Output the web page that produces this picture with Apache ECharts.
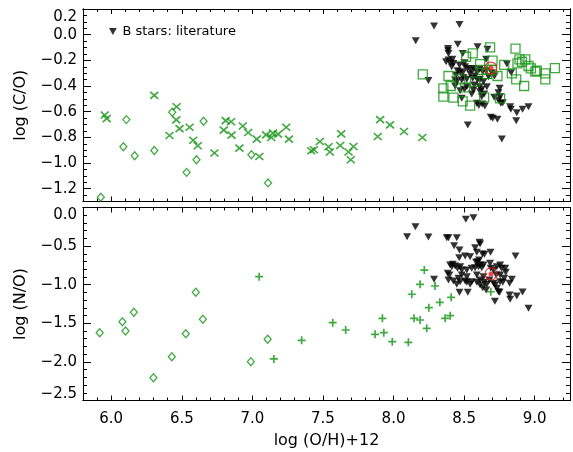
<!DOCTYPE html>
<html>
<head>
<meta charset="utf-8">
<script src="https://cdn.jsdelivr.net/npm/echarts@6/dist/echarts.min.js"></script>
<style>html,body{margin:0;padding:0;background:#fff;}#c{width:573px;height:452px;}</style>
</head>
<body>
<div id="c"></div>
<script>
// ---------- tick labels ----------
const xMajorTicks = [6.0, 6.5, 7.0, 7.5, 8.0, 8.5, 9.0];
const coMajorTicks = [-1.2, -1.0, -0.8, -0.6, -0.4, -0.2, 0.0, 0.2];
const noMajorTicks = [-2.5, -2.0, -1.5, -1.0, -0.5, 0.0];

// ---------- top panel: log(C/O) vs log(O/H)+12 ----------
const coDiamonds = [
  [5.926,-1.267],[6.086,-0.874],[6.107,-0.662],[6.166,-0.943],[6.305,-0.902],
  [6.432,-0.605],[6.534,-1.073],[6.604,-0.974],[6.654,-0.674],[6.993,-0.936],[7.111,-1.155]
];
const coCrosses = [
  [5.954,-0.626],[5.968,-0.654],[6.305,-0.473],[6.413,-0.786],[6.463,-0.561],[6.461,-0.664],
  [6.484,-0.732],[6.555,-0.721],[6.581,-0.822],[6.613,-0.866],[6.731,-0.922],[6.797,-0.744],
  [6.811,-0.670],[6.849,-0.678],[6.852,-0.783],[6.908,-0.884],[6.932,-0.711],[6.970,-0.763],
  [7.031,-0.814],[7.049,-0.949],[7.097,-0.781],[7.134,-0.801],[7.146,-0.767],[7.182,-0.775],
  [7.240,-0.721],[7.259,-0.814],[7.417,-0.905],[7.436,-0.897],[7.478,-0.833],[7.539,-0.874],
  [7.549,-0.915],[7.622,-0.864],[7.629,-0.773],[7.681,-0.915],[7.697,-0.974],[7.716,-0.871],
  [7.888,-0.794],[7.905,-0.662],[7.975,-0.703],[8.074,-0.755],[8.204,-0.801]
];
const coSquares = [
  [8.207,-0.309],[8.389,-0.322],[8.353,-0.418],[8.353,-0.483],[8.405,-0.400],[8.424,-0.491],
  [8.490,-0.520],[8.507,-0.410],[8.543,-0.553],[8.514,-0.172],[8.561,-0.146],[8.578,-0.366],
  [8.613,-0.229],[8.642,-0.488],[8.684,-0.099],[8.701,-0.203],[8.736,-0.322],[8.755,-0.496],
  [8.784,-0.236],[8.838,-0.301],[8.864,-0.109],[8.869,-0.348],[8.878,-0.223],[8.892,-0.192],
  [8.933,-0.192],[8.909,-0.211],[8.925,-0.400],[8.956,-0.244],[8.973,-0.263],[9.004,-0.288],
  [9.015,-0.281],[9.075,-0.301],[9.075,-0.348],[9.143,-0.260],[8.472,-0.348],[8.661,-0.307],
  [8.625,-0.275],[8.696,-0.276]
];
const coBstars = [
  [8.287,0.067],[8.467,0.080],[8.157,-0.047],[8.455,-0.075],[8.386,-0.107],[8.386,-0.125],
  [8.389,-0.146],[8.490,-0.146],[8.595,-0.094],[8.665,-0.114],[8.372,-0.211],[8.389,-0.198],
  [8.405,-0.218],[8.424,-0.224],[8.417,-0.192],[8.467,-0.236],[8.502,-0.218],[8.507,-0.250],
  [8.524,-0.263],[8.547,-0.275],[8.566,-0.263],[8.590,-0.288],[8.609,-0.270],[8.632,-0.288],
  [8.656,-0.281],[8.453,-0.281],[8.472,-0.288],[8.490,-0.296],[8.436,-0.353],[8.448,-0.366],
  [8.483,-0.353],[8.495,-0.333],[8.519,-0.348],[8.561,-0.340],[8.595,-0.353],[8.613,-0.348],
  [8.637,-0.366],[8.571,-0.392],[8.609,-0.405],[8.625,-0.426],[8.472,-0.437],[8.502,-0.426],
  [8.554,-0.463],[8.566,-0.431],[8.625,-0.483],[8.642,-0.463],[8.483,-0.496],[8.590,-0.535],
  [8.604,-0.551],[8.628,-0.540],[8.647,-0.556],[8.713,-0.488],[8.751,-0.418],[8.743,-0.452],
  [8.755,-0.483],[8.743,-0.509],[8.760,-0.535],[8.774,-0.530],[8.833,-0.296],[8.803,-0.229],
  [8.696,-0.296],[8.715,-0.322],[8.689,-0.644],[8.703,-0.652],[8.736,-0.660],[8.826,-0.561],
  [8.831,-0.582],[8.873,-0.608],[8.869,-0.670],[8.914,-0.582],[8.956,-0.561],[8.526,-0.704],
  [8.767,-0.813],[8.247,-0.358],[8.656,-0.192],[8.673,-0.327],[8.519,-0.405],[8.443,-0.314],
  [8.412,-0.250],[8.543,-0.307],[8.578,-0.322],[8.661,-0.405],[8.613,-0.444],[8.436,-0.400]
];
const coSun = [[8.69,-0.26]];

// ---------- bottom panel: log(N/O) vs log(O/H)+12 ----------
const noDiamonds = [
  [5.918,-1.622],[6.079,-1.479],[6.101,-1.600],[6.160,-1.358],[6.299,-2.205],
  [6.429,-1.933],[6.528,-1.635],[6.599,-1.099],[6.649,-1.448],[6.989,-1.997],[7.108,-1.707]
];
const noPluses = [
  [7.048,-0.896],[7.152,-1.962],[7.349,-1.720],[7.569,-1.492],[7.661,-1.587],[7.869,-1.643],
  [7.921,-1.435],[7.931,-1.622],[7.991,-1.738],[8.105,-1.746],[8.129,-1.124],[8.145,-1.435],
  [8.188,-1.457],[8.188,-0.995],[8.218,-0.810],[8.235,-1.565],[8.250,-1.298],[8.294,-1.017],
  [8.328,-1.228],[8.365,-1.435],[8.401,-1.401],[8.408,-1.163],[8.689,-1.091]
];
const noBstars = [
  [8.512,-0.153],[8.566,-0.132],[8.155,-0.248],[8.096,-0.378],[8.247,-0.382],[8.377,-0.391],
  [8.389,-0.391],[8.448,-0.391],[8.429,-0.494],[8.467,-0.550],[8.465,-0.650],[8.609,-0.451],
  [8.613,-0.473],[8.578,-0.520],[8.590,-0.581],[8.630,-0.602],[8.644,-0.607],[8.687,-0.581],
  [8.864,-0.628],[8.287,-0.930],[8.467,-1.099],[8.526,-1.099],[8.718,-1.215],[8.826,-1.190],
  [8.873,-1.146],[8.914,-1.095],[8.956,-1.306],[8.401,-0.745],[8.420,-0.736],[8.384,-0.853],
  [8.396,-0.874],[8.413,-0.766],[8.436,-0.758],[8.472,-0.766],[8.453,-0.788],[8.483,-0.810],
  [8.519,-0.810],[8.554,-0.788],[8.578,-0.779],[8.602,-0.766],[8.625,-0.779],[8.585,-0.710],
  [8.606,-0.680],[8.637,-0.745],[8.684,-0.723],[8.689,-0.788],[8.708,-0.810],[8.732,-0.766],
  [8.755,-0.745],[8.765,-0.788],[8.795,-0.840],[8.389,-0.939],[8.424,-0.952],[8.460,-0.918],
  [8.483,-0.874],[8.519,-0.896],[8.554,-0.961],[8.590,-0.969],[8.613,-0.939],[8.642,-0.969],
  [8.661,-0.995],[8.680,-0.939],[8.708,-0.982],[8.720,-1.004],[8.732,-1.047],[8.743,-1.090],
  [8.755,-0.961],[8.774,-0.969],[8.727,-0.874],[8.613,-1.004],[8.632,-1.038],[8.656,-1.069],
  [8.519,-0.969],[8.448,-0.995],[8.472,-0.961],[8.507,-0.952],[8.542,-0.995],[8.590,-0.874],
  [8.637,-0.896],[8.755,-0.874],[8.784,-0.918],[8.822,-0.982],[8.791,-0.788],[8.838,-0.930],
  [8.822,-1.133],[8.507,-0.628],[8.542,-0.637],[8.595,-0.702],[8.613,-0.745],[8.751,-1.099]
];
const noSun = [[8.69,-0.86]];

// ---------- styling ----------
const GREEN = '#139313';
const FONT = 'DejaVu Sans';
const X_MIN = 5.8, X_MAX = 9.25;
const CO_MIN = -1.3, CO_MAX = 0.2;
const NO_MIN = -2.5, NO_MAX = 0.0;

function steps(a, b, d) {
  const out = [];
  const n = Math.round((b - a) / d);
  for (let i = 0; i <= n; i++) out.push(+(a + i * d).toFixed(4));
  return out;
}
const xMinorTicks = steps(5.8, 9.2, 0.1);
const coMinorTicks = steps(-1.3, 0.2, 0.05);
const noMinorTicks = steps(-2.5, 0.0, 0.1);

function fmt(v) { return v.toFixed(1).replace('-', '\u2212'); }

function xAx(grid, pos, ticks, len, labels, extra) {
  return Object.assign({
    type: 'value', gridIndex: grid, position: pos, min: X_MIN, max: X_MAX,
    axisLine: { show: true, onZero: false, lineStyle: { color: '#000', width: 1 } },
    axisTick: { show: true, inside: true, length: len, customValues: ticks, lineStyle: { color: '#000', width: 1 } },
    axisLabel: labels ? { show: true, customValues: ticks, margin: 11, formatter: fmt,
      fontFamily: FONT, fontSize: 15, color: '#000' } : { show: false },
    splitLine: { show: false }
  }, extra || {});
}
function yAx(grid, pos, min, max, ticks, len, labels, extra) {
  return Object.assign({
    type: 'value', gridIndex: grid, position: pos, min: min, max: max,
    axisLine: { show: true, onZero: false, lineStyle: { color: '#000', width: 1 } },
    axisTick: { show: true, inside: true, length: len, customValues: ticks, lineStyle: { color: '#000', width: 1 } },
    axisLabel: labels ? Object.assign({ show: true, customValues: ticks, margin: 6,
      fontFamily: FONT, fontSize: 15, color: '#000' }, labels) : { show: false },
    splitLine: { show: false }
  }, extra || {});
}
const richShift = {
  dn: { padding: [16, 0, 0, 0], fontFamily: FONT, fontSize: 15, color: '#000' },
  up: { padding: [0, 0, 12, 0], fontFamily: FONT, fontSize: 15, color: '#000' }
};

const xAxes = [
  xAx(0, 'bottom', xMajorTicks, 5, false),
  xAx(0, 'bottom', xMinorTicks, 3, false),
  xAx(0, 'top', xMajorTicks, 5, false),
  xAx(0, 'top', xMinorTicks, 3, false),
  xAx(1, 'bottom', xMajorTicks, 5, true, {
    name: 'log (O/H)+12', nameLocation: 'middle', nameGap: 32,
    nameTextStyle: { fontFamily: FONT, fontSize: 16, color: '#000' } }),
  xAx(1, 'bottom', xMinorTicks, 3, false),
  xAx(1, 'top', xMajorTicks, 5, false),
  xAx(1, 'top', xMinorTicks, 3, false)
];
const yAxes = [
  yAx(0, 'left', CO_MIN, CO_MAX, coMajorTicks, 8, {
    formatter: v => Math.abs(v - CO_MAX) < 1e-6 ? '{dn|' + fmt(v) + '}' : fmt(v), rich: richShift
  }, { name: 'log (C/O)', nameLocation: 'middle', nameGap: 54,
       nameTextStyle: { fontFamily: FONT, fontSize: 16, color: '#000' } }),
  yAx(0, 'left', CO_MIN, CO_MAX, coMinorTicks, 4, false),
  yAx(0, 'right', CO_MIN, CO_MAX, coMajorTicks, 8, false),
  yAx(0, 'right', CO_MIN, CO_MAX, coMinorTicks, 4, false),
  yAx(1, 'left', NO_MIN, NO_MAX, noMajorTicks, 8, {
    formatter: v => Math.abs(v - NO_MAX) < 1e-6 ? '{dn|' + fmt(v) + '}' :
      (Math.abs(v - NO_MIN) < 1e-6 ? '{up|' + fmt(v) + '}' : fmt(v)), rich: richShift
  }, { name: 'log (N/O)', nameLocation: 'middle', nameGap: 54,
       nameTextStyle: { fontFamily: FONT, fontSize: 16, color: '#000' } }),
  yAx(1, 'left', NO_MIN, NO_MAX, noMinorTicks, 4, false),
  yAx(1, 'right', NO_MIN, NO_MAX, noMajorTicks, 8, false),
  yAx(1, 'right', NO_MIN, NO_MAX, noMinorTicks, 4, false)
];

const TRI = 'path://M0,0L10,0L5,9Z';
const CROSS = 'path://M0,0L10,10M10,0L0,10';
const PLUS = 'path://M5,0L5,10M0,5L10,5';
const CLEAR = 'rgba(0,0,0,0)';

function sc(name, data, xi, yi, symbol, size, style, z) {
  return { type: 'scatter', name: name, data: data, xAxisIndex: xi, yAxisIndex: yi,
    symbol: symbol, symbolSize: size, itemStyle: style, z: z || 2,
    emphasis: { disabled: true }, silent: true };
}
const BNAME = 'B stars: literature';
const series = [
  sc(BNAME, coBstars, 0, 0, TRI, [8, 7], { color: '#000' }, 2),
  sc('coSq', coSquares, 0, 0, 'rect', 9, { color: CLEAR, borderColor: GREEN, borderWidth: 1.3 }, 3),
  sc('coDia', coDiamonds, 0, 0, 'diamond', [7, 8], { color: CLEAR, borderColor: GREEN, borderWidth: 1.3 }, 3),
  sc('coX', coCrosses, 0, 0, CROSS, [8, 7], { color: CLEAR, borderColor: GREEN, borderWidth: 1.6 }, 3),
  sc('coSunRing', coSun, 0, 0, 'circle', 12, { color: CLEAR, borderColor: '#ee1c1c', borderWidth: 1.2 }, 5),
  sc('coSunDot', coSun, 0, 0, 'circle', 5, { color: '#ee1c1c' }, 6),
  sc(BNAME, noBstars, 4, 4, TRI, [8, 7], { color: '#000' }, 2),
  sc('noDia', noDiamonds, 4, 4, 'diamond', [7, 8], { color: CLEAR, borderColor: GREEN, borderWidth: 1.3 }, 3),
  sc('noPlus', noPluses, 4, 4, PLUS, 8, { color: CLEAR, borderColor: GREEN, borderWidth: 1.7 }, 3),
  sc('noSunRing', noSun, 4, 4, 'circle', 12, { color: CLEAR, borderColor: '#ee1c1c', borderWidth: 1.2 }, 5),
  sc('noSunDot', noSun, 4, 4, 'circle', 5, { color: '#ee1c1c' }, 6)
];

const chart = echarts.init(document.getElementById('c'), null, { renderer: 'canvas' });
chart.setOption({
  animation: false,
  backgroundColor: '#fff',
  grid: [
    { left: 83, right: 3, top: 9, height: 192.5 },
    { left: 83, right: 3, top: 207.5, height: 193 }
  ],
  legend: {
    left: 104, top: 20, itemWidth: 9, itemHeight: 7, selectedMode: false,
    data: [{ name: BNAME, icon: TRI }],
    textStyle: { fontFamily: FONT, fontSize: 13, color: '#000' }
  },
  xAxis: xAxes,
  yAxis: yAxes,
  series: series
});
</script>
</body>
</html>
